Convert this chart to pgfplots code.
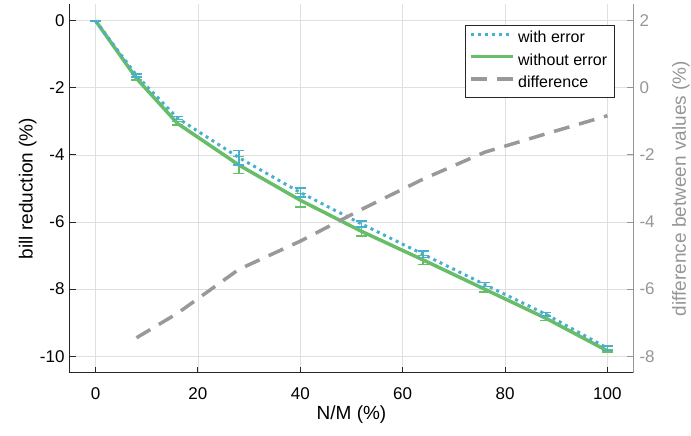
\documentclass[border=0pt]{standalone}
\usepackage{pgfplots}
\usepackage{pgfplotstable}
\pgfplotsset{compat=1.18}
\usepackage{fontspec}
\setmainfont{Liberation Sans}
\definecolor{cblue}{RGB}{72,176,206}
\definecolor{cgreen}{RGB}{104,189,104}
\definecolor{cgray}{RGB}{153,153,153}
\definecolor{caxis}{RGB}{38,38,38}
\definecolor{cgrid}{RGB}{223,223,223}
\definecolor{crax}{RGB}{150,150,150}

\pgfplotstableread{
x y e
0 0 0
8 -1.72 0.04
16 -3.06 0.05
28 -4.30 0.26
40 -5.35 0.20
52 -6.28 0.14
64 -7.13 0.13
76 -8.00 0.08
88 -8.87 0.07
100 -9.84 0.04
}\withouterr

\pgfplotstableread{
x y e
0 0 0
8 -1.63 0.04
16 -2.90 0.05
28 -4.08 0.22
40 -5.12 0.13
52 -6.06 0.09
64 -6.96 0.09
76 -7.86 0.06
88 -8.75 0.05
100 -9.76 0.07
}\witherr

\pgfplotstableread{
x y
8 -7.45
16 -6.72
28 -5.41
40 -4.57
52 -3.62
64 -2.72
76 -1.92
88 -1.37
100 -0.83
}\difftab

\begin{document}
\begin{tikzpicture}
\pgfplotsset{
  common/.style={
    width=563pt, height=369pt, scale only axis,
    at={(0,0)}, anchor=south west,
    xmin=-5, xmax=105,
    tick align=inside, major tick length=6pt,
    /pgf/number format/assume math mode=true,
    ticklabel style={font=\fontsize{17}{20}\selectfont},
    label style={font=\fontsize{19}{22}\selectfont},
  }
}
\begin{axis}[common,
  ymin=-10.5, ymax=0.5,
  axis x line*=bottom, axis y line*=left,
  axis line style={-, caxis, line width=1pt},
  xtick={0,20,...,100}, ytick={-10,-8,-6,-4,-2,0},
  yticklabels={-10,-8,-6,-4,-2,0\hspace{11pt}},
  grid=major, grid style={cgrid, line width=0.8pt},
  major tick style={caxis, line width=1pt},
  xticklabel style={yshift=-11pt},
  yticklabel style={xshift=-2pt},
  xlabel={N/M (\%)}, ylabel={bill reduction (\%)},
  xlabel style={at={(axis description cs:0.5,-0.125)}, anchor=base},
  ylabel style={at={(axis description cs:-0.0666,0.5)}, anchor=base},
]
\addplot[cgreen, line width=3.5pt, mark=none,
  error bars/.cd, y dir=both, y explicit,
  error bar style={solid, line width=1.5pt, cgreen},
  error mark options={rotate=90, mark size=5.5pt, solid, line width=1.5pt, cgreen}]
  table[x=x, y=y, y error=e]{\withouterr};
\addplot[cblue, line width=3pt, dash pattern=on 3pt off 4pt, mark=none,
  error bars/.cd, y dir=both, y explicit,
  error bar style={solid, line width=1.5pt, cblue},
  error mark options={rotate=90, mark size=5.5pt, solid, line width=1.5pt, cblue}]
  table[x=x, y=y, y error=e]{\witherr};
\end{axis}
\begin{axis}[common,
  ymin=-8.5, ymax=2.5,
  axis y line*=right, axis x line=none,
  axis line style={-, crax, line width=1pt},
  ytick={-8,-6,...,2},
  major tick style={crax, line width=1pt},
  yticklabel style={crax, xshift=3pt},
  ylabel={difference between values (\%)},
  ylabel style={crax, at={(axis description cs:1.094,0.5)}, anchor=base},
  legend style={at={(axis description cs:1,1)}, anchor=north east,
    xshift=-18pt, yshift=-21pt, draw=caxis, line width=0.8pt,
    font=\fontsize{16}{19}\selectfont, cells={anchor=west},
    inner xsep=4.5pt, inner ysep=5.5pt, row sep=7pt,
    nodes={inner xsep=3pt, inner ysep=0pt, text height=12pt, text depth=3.5pt}},
  legend image code/.code={\draw[#1] (0pt,4.5pt) -- (42pt,4.5pt);},
]
\addlegendimage{cblue, line width=3pt, dash pattern=on 3pt off 4pt}
\addlegendimage{cgreen, line width=3.5pt}
\addplot[cgray, line width=3.5pt, dash pattern=on 16pt off 10pt, mark=none]
  table[x=x, y=y]{\difftab};
\legend{with error, without error, difference}
\end{axis}
\pgfresetboundingbox
\useasboundingbox (-70pt,-63pt) rectangle (621pt,373pt);
\end{tikzpicture}
\end{document}
